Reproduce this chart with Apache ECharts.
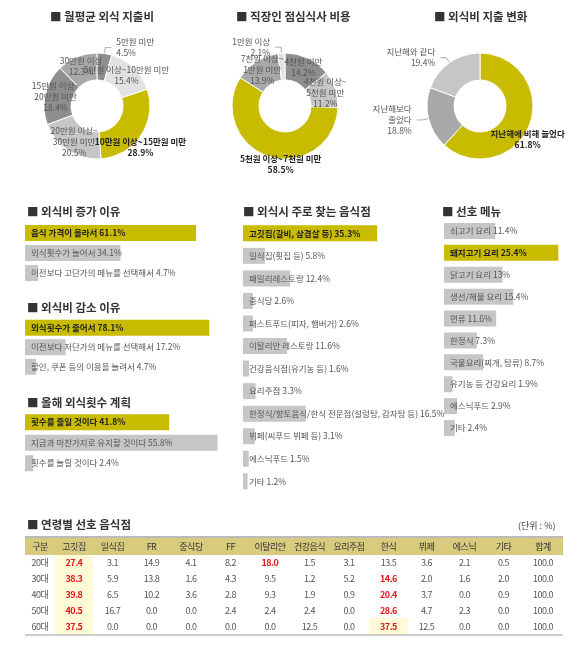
<!DOCTYPE html>
<html><head><meta charset="utf-8">
<script src="https://cdn.jsdelivr.net/npm/echarts@6/dist/echarts.min.js"></script>
<style>
body{margin:0;background:#fff;font-family:"Noto Sans CJK KR",sans-serif;}
#c{position:absolute;left:0;top:0;width:582px;height:651px;}
#t{position:absolute;left:25px;top:536px;border-collapse:collapse;font-size:9px;color:#555;letter-spacing:-0.5px}
#t td,#t th{text-align:center;height:15.8px;padding:0;}
#t th{background:#d8cb7e;color:#333;font-weight:normal;height:17px;border-top:2px solid #bbb;}
#t tr:last-child td{border-bottom:2px solid #ccc;}
.ttl{position:absolute;font-size:11.5px;font-weight:bold;color:#333;}
</style></head><body>
<div id="c"></div>
<div class="ttl" style="left:27px;top:516px">■ 연령별 선호 음식점</div>
<div style="position:absolute;left:518px;top:519px;font-size:9px;color:#444">(단위 : %)</div>
<table id="t"></table>
<script>
// donut data
const pie1Names=['5만원 미만','5만원 이상~10만원 미만','10만원 이상~15만원 미만','20만원 이상~\n30만원 미만','15만원 이상~\n20만원 미만','30만원 이상'];
const pie1Values=[4.5,15.4,28.9,20.5,18.4,12.3];
const pie2Names=['4천원 미만','4천원 이상~\n5천원 미만','5천원 이상~7천원 미만','7천원 이상~\n1만원 미만','1만원 이상'];
const pie2Values=[14.2,11.2,58.5,13.9,2.1];
const pie3Names=['지난해에 비해 늘었다','지난해보다\n줄었다','지난해와 같다'];
const pie3Values=[61.8,18.8,19.4];
// bar data
const incNames=['음식 가격이 올라서','외식횟수가 늘어서','이전보다 고단가의 메뉴를 선택해서'];
const incValues=[61.1,34.1,4.7];
const decNames=['외식횟수가 줄어서','이전보다 저단가의 메뉴를 선택해서','할인, 쿠폰 등의 이용을 늘려서'];
const decValues=[78.1,17.2,4.7];
const planNames=['횟수를 줄일 것이다','지금과 마찬가지로 유지할 것이다','횟수를 늘릴 것이다'];
const planValues=[41.8,55.8,2.4];
const restNames=['고깃집(갈비, 삼겹살 등)','일식집(횟집 등)','패밀리레스토랑','중식당','패스트푸드(피자, 햄버거)','이탈리안 레스토랑','건강음식점(유기농 등)','요리주점','한정식/향토음식/한식 전문점(설렁탕, 감자탕 등)','뷔페(씨푸드 뷔페 등)','에스닉푸드','기타'];
const restValues=[35.3,5.8,12.4,2.6,2.6,11.6,1.6,3.3,16.5,3.1,1.5,1.2];
const menuNames=['쇠고기 요리','돼지고기 요리','닭고기 요리','생선/해물 요리','면류','한정식','국물요리(찌개, 탕류)','유기농 등 건강요리','에스닉푸드','기타'];
const menuValues=[11.4,25.4,13.0,15.4,11.6,7.3,8.7,1.9,2.9,2.4];
// table data
const tableHeader=['구분','고깃집','일식집','FR','중식당','FF','이탈리안','건강음식','요리주점','한식','뷔페','에스닉','기타','합계'];
const tableRows=[
['20대','27.4','3.1','14.9','4.1','8.2','18.0','1.5','3.1','13.5','3.6','2.1','0.5','100.0'],
['30대','38.3','5.9','13.8','1.6','4.3','9.5','1.2','5.2','14.6','2.0','1.6','2.0','100.0'],
['40대','39.8','6.5','10.2','3.6','2.8','9.3','1.9','0.9','20.4','3.7','0.0','0.9','100.0'],
['50대','40.5','16.7','0.0','0.0','2.4','2.4','2.4','0.0','28.6','4.7','2.3','0.0','100.0'],
['60대','37.5','0.0','0.0','0.0','0.0','0.0','12.5','0.0','37.5','12.5','0.0','0.0','100.0']];
const redCells={ '0-6':1,'1-9':1,'2-9':1,'3-9':1,'4-9':1 };

const Y='#c9bb00',D='#8e8e8e',G='#a8a8a8',L='#c6c6c6',VL='#e2e2e2';
const font='"Noto Sans CJK KR"';
function pie(names,vals,cols,cx,hi,outs){
  return {type:'pie',center:[cx,106],radius:[26,53],startAngle:90,clockwise:true,
    itemStyle:{borderColor:'#fff',borderWidth:1},
    labelLine:{length:6,length2:6,lineStyle:{color:'#777',width:0.6}},
    labelLayout:{hideOverlap:false},
    data:vals.map((v,i)=>({name:names[i],value:v,itemStyle:{color:cols[i]},
      label:i===hi?{position:'inside',color:'#222',fontWeight:'bold',offset:[8,18]}:
        (outs.includes(i)?{position:'outside'}:{position:'inside'})})),
    label:{formatter:p=>p.name+'\n'+p.value.toFixed(1)+'%',fontSize:8.5,color:'#555',fontFamily:font,lineHeight:11,letterSpacing:-0.5,overflow:'none'}};
}
const grids=[],xs=[],ys=[],series=[];
function bars(names,vals,hiIdx,left,top,sp,pxPer){
  const k=grids.length;
  grids.push({left:left,top:top,width:100,height:sp*names.length});
  xs.push({gridIndex:k,type:'value',min:0,max:100/pxPer,show:false});
  ys.push({gridIndex:k,type:'category',data:names,inverse:true,show:false});
  series.push({type:'bar',xAxisIndex:k,yAxisIndex:k,barWidth:16,clip:false,
    data:vals.map((v,i)=>({value:v,itemStyle:{color:hiIdx.includes(i)?Y:L},
      label:hiIdx.includes(i)?{color:'#222',fontWeight:'bold'}:{}})),
    label:{show:true,position:'insideLeft',distance:6,fontSize:8.5,color:'#555',fontFamily:font,
      formatter:p=>p.name+' '+p.value+'%'}});
}
bars(incNames,incValues,[0],25,223,20,2.8);
bars(decNames,decValues,[0],25,318,19.5,2.36);
bars(planNames,planValues,[0],25,412,20.5,3.45);
bars(restNames,restValues,[0],243,222,22.55,3.8);
bars(menuNames,menuValues,[1],444,220,21.9,4.5);
series.push(pie(pie1Names,pie1Values,[D,VL,Y,L,D,G],97,2,[0]));
series.push(pie(pie2Names,pie2Values,[D,L,Y,G,VL],285,2,[4]));
series.push(pie(pie3Names,pie3Values,[Y,G,L],480,0,[1,2]));
const t=(x,y,s)=>({type:'text',left:x,top:y,style:{text:'■ '+s,fontSize:11.5,fontWeight:'bold',fill:'#333',fontFamily:font}});
const chart=echarts.init(document.getElementById('c'));
chart.setOption({animation:false,grid:grids,xAxis:xs,yAxis:ys,series:series,
  graphic:[t(50,11,'월평균 외식 지출비'),t(236,11,'직장인 점심식사 비용'),t(434,11,'외식비 지출 변화'),
    t(27,206,'외식비 증가 이유'),t(27,302,'외식비 감소 이유'),t(27,397,'올해 외식횟수 계획'),
    t(243,206,'외식시 주로 찾는 음식점'),t(442,206,'선호 메뉴')]});
// table
const widths=[30,38,39,39,40,39,40,39,40,39,37,39,39,40];
let h='<tr>'+tableHeader.map((c,i)=>`<th style="width:${widths[i]}px">${c}</th>`).join('')+'</tr>';
tableRows.forEach((r,ri)=>{h+='<tr>'+r.map((c,i)=>{
  const red=i===1||redCells[ri+'-'+i];
  const bg=(i===1||(ri===4&&i===9))?'background:#fffbd8;':'';
  return `<td style="${bg}${red?'color:#e8141c;font-weight:bold;':''}">${c}</td>`;}).join('')+'</tr>';});
document.getElementById('t').innerHTML=h;
</script></body></html>
